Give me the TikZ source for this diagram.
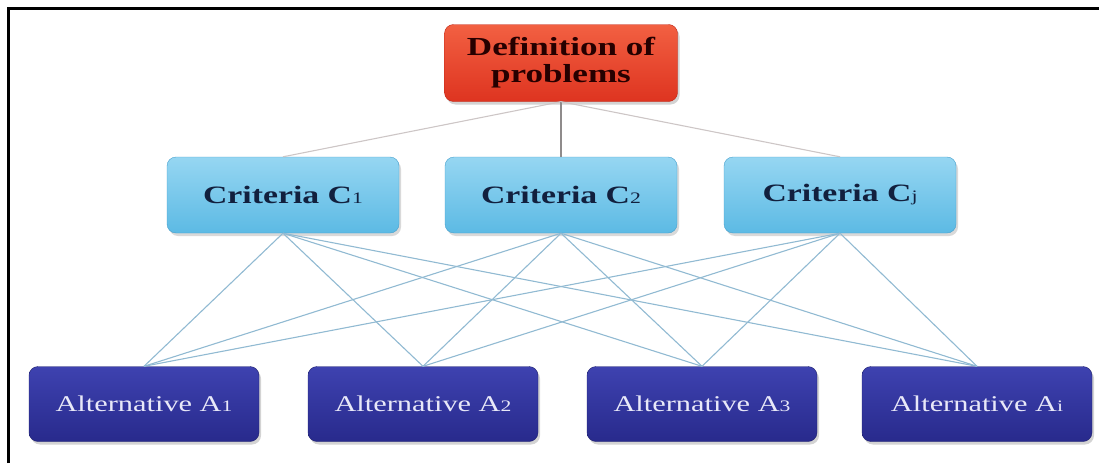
\documentclass[tikz,border=0pt]{standalone}
\usepackage{fontspec}
\setmainfont{Liberation Serif}[FakeStretch=1.35]
\usepackage{tikz}
\usetikzlibrary{shadows,positioning}
\definecolor{probtop}{RGB}{242,96,66}
\definecolor{probbot}{RGB}{222,52,32}
\definecolor{probline}{RGB}{190,40,25}
\definecolor{crittop}{RGB}{150,214,242}
\definecolor{critbot}{RGB}{92,186,228}
\definecolor{critline}{RGB}{70,160,205}
\definecolor{crittext}{RGB}{18,32,62}
\definecolor{alttop}{RGB}{62,66,176}
\definecolor{altbot}{RGB}{40,42,140}
\definecolor{altline}{RGB}{32,34,110}
\definecolor{alttext}{RGB}{232,232,248}
\definecolor{linkblue}{RGB}{145,186,210}
\definecolor{linkgrey}{RGB}{205,198,198}
\tikzset{
problem/.style = {draw=probline, rounded corners=9pt, top color=probtop, bottom color=probbot, align=center, minimum width=233pt, minimum height=77pt, font=\fontsize{26}{27}\selectfont\bfseries, text=black!85!red, drop shadow={opacity=0.35, shadow xshift=2pt, shadow yshift=-3pt}},
criterion/.style = {draw=critline, rounded corners=9pt, top color=crittop, bottom color=critbot, align=center, minimum width=232pt, minimum height=76pt, font=\fontsize{25}{27}\selectfont\bfseries, text=crittext, drop shadow={opacity=0.3, shadow xshift=2pt, shadow yshift=-3pt}},
alternative/.style = {draw=altline, rounded corners=9pt, top color=alttop, bottom color=altbot, align=center, minimum width=230pt, minimum height=75pt, font=\fontsize{22.5}{25}\selectfont, text=alttext, drop shadow={opacity=0.35, shadow xshift=2pt, shadow yshift=-3pt}},
link/.style = {draw=linkblue, line width=1.1pt},
toplink/.style = {draw=linkgrey, line width=1.1pt},
}
\newcommand{\idx}[1]{{\fontsize{16}{16}\selectfont\mdseries #1}}

\begin{document}
\begin{tikzpicture}[x=1pt,y=-1pt]
        \useasboundingbox (0,0) rectangle (1099,463);
        % frame
        \draw [line width=3pt] (8,463) -- (8,8) -- (1099,8);

        \node [problem] (def) at (561,63) {Definition of\\problems};

        % criteria
        \node [criterion] (c1) at (283,195) {Criteria C\idx{1}};
        \node [criterion] (c2) at (561,195) {Criteria C\idx{2}};
        \node [criterion] (cj) at (840,195) {Criteria C\idx{j}};

        % alternatives
        \node [alternative] (a1) at (144,404) {Alternative A\idx{1}};
        \node [alternative] (a2) at (423,404) {Alternative A\idx{2}};
        \node [alternative] (a3) at (702,404) {Alternative A\idx{3}};
        \node [alternative] (ai) at (977,404) {Alternative A\idx{i}};

        \draw [toplink] (def.south) -- (c1.north);
        \draw [toplink, draw=linkgrey!70!black] (def.south) -- (c2.north);
        \draw [toplink] (def.south) -- (cj.north);

        \draw [link] (c1.south) -- (a1.north);
        \draw [link] (c1.south) -- (a2.north);
        \draw [link] (c1.south) -- (a3.north);
        \draw [link] (c1.south) -- (ai.north);
        \draw [link] (c2.south) -- (a1.north);
        \draw [link] (c2.south) -- (a2.north);
        \draw [link] (c2.south) -- (a3.north);
        \draw [link] (c2.south) -- (ai.north);
        \draw [link] (cj.south) -- (a1.north);
        \draw [link] (cj.south) -- (a2.north);
        \draw [link] (cj.south) -- (a3.north);
        \draw [link] (cj.south) -- (ai.north);
\end{tikzpicture}
\end{document}
